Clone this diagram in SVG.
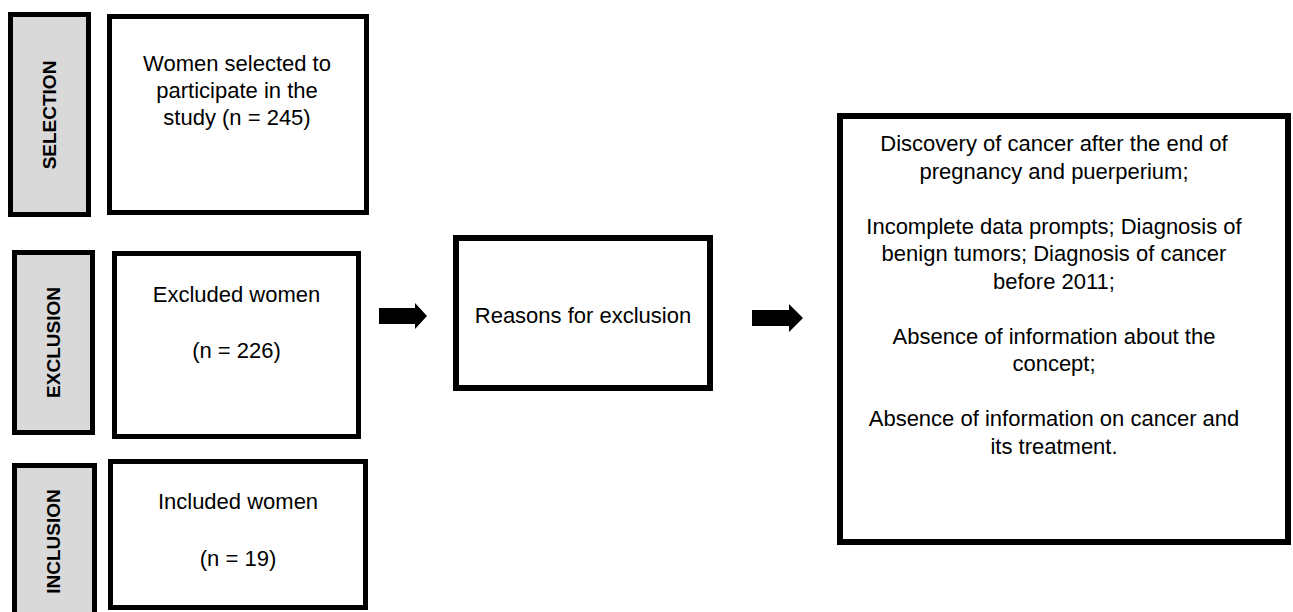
<svg xmlns="http://www.w3.org/2000/svg" width="1293" height="612" viewBox="0 0 1293 612">
<style>
.lbl{fill:#d9d9d9;stroke:#000;stroke-width:5}
.box{fill:#fff;stroke:#000;stroke-width:5}
.box6{fill:#fff;stroke:#000;stroke-width:6}
.t{font-family:"Liberation Sans",Arial,sans-serif;font-size:22px;fill:#000;text-anchor:middle}
.lt{font-family:"Liberation Sans",Arial,sans-serif;font-size:19px;font-weight:bold;fill:#000;text-anchor:middle}
.arr{fill:#000;stroke:none}
</style>
<rect width="1293" height="612" fill="#fff"/>
<g id="label-selection">
<rect class="lbl" x="10.5" y="14.5" width="78" height="200"/>
<text class="lt" transform="translate(56,115) rotate(-90)">SELECTION</text>
</g>
<g id="label-exclusion">
<rect class="lbl" x="14.5" y="252.5" width="78" height="180"/>
<text class="lt" transform="translate(60,342.5) rotate(-90)">EXCLUSION</text>
</g>
<g id="label-inclusion">
<rect class="lbl" x="14.5" y="465.5" width="80" height="160"/>
<text class="lt" transform="translate(60,541.5) rotate(-90)">INCLUSION</text>
</g>
<g id="node-selected">
<rect class="box" x="109.5" y="16.5" width="257" height="196"/>
<text class="t" x="237" y="71">Women selected to</text>
<text class="t" x="237" y="98">participate in the</text>
<text class="t" x="237" y="125">study (n = 245)</text>
</g>
<g id="node-excluded">
<rect class="box" x="114.5" y="253.5" width="244" height="183"/>
<text class="t" x="236.5" y="302">Excluded women</text>
<text class="t" x="236.5" y="358">(n = 226)</text>
</g>
<g id="node-included">
<rect class="box" x="110.5" y="461.5" width="255" height="146"/>
<text class="t" x="238" y="509">Included women</text>
<text class="t" x="238" y="566">(n = 19)</text>
</g>
<g id="node-reasons">
<rect class="box6" x="456" y="238" width="254" height="150"/>
<text class="t" x="583" y="323">Reasons for exclusion</text>
</g>
<g id="node-reasons-list">
<rect class="box6" x="840" y="116" width="448" height="426"/>
<text class="t" x="1054" y="151">Discovery of cancer after the end of</text>
<text class="t" x="1054" y="178.5">pregnancy and puerperium;</text>
<text class="t" x="1054" y="233.5">Incomplete data prompts; Diagnosis of</text>
<text class="t" x="1054" y="261">benign tumors; Diagnosis of cancer</text>
<text class="t" x="1054" y="288.5">before 2011;</text>
<text class="t" x="1054" y="343.5">Absence of information about the</text>
<text class="t" x="1054" y="371">concept;</text>
<text class="t" x="1054" y="426">Absence of information on cancer and</text>
<text class="t" x="1054" y="453.5">its treatment.</text>
</g>
<g id="connectors">
<path class="arr" d="M379,308 H415 V303 L427,316 L415,329 V324 H379 Z"/>
<path class="arr" d="M752,310 H789 V304 L803,318 L789,332 V326 H752 Z"/>
</g>
</svg>
